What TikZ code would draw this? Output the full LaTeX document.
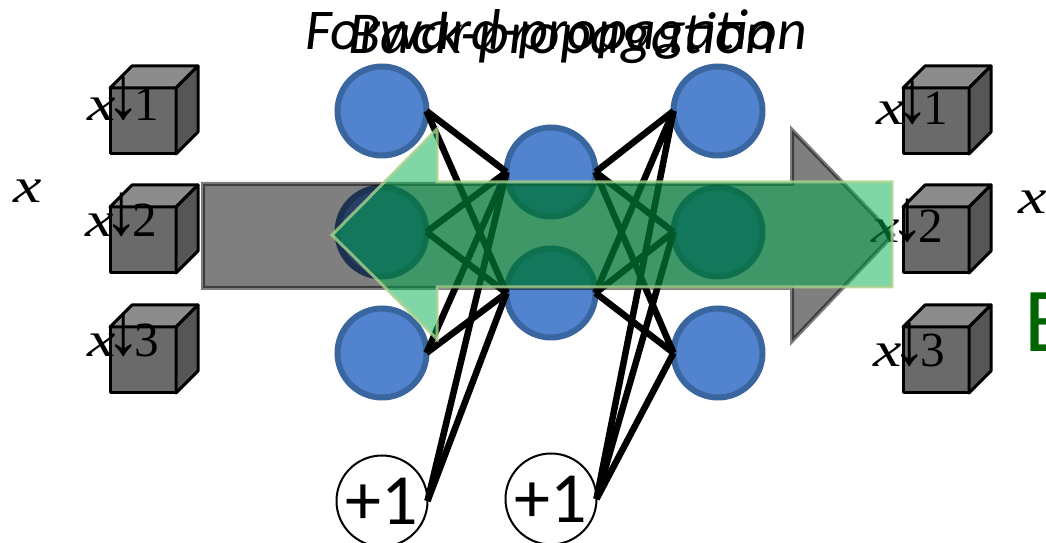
\documentclass[tikz,border=0pt]{standalone}
\usepackage{fontspec}
\newfontfamily\labelfont{Carlito}
\newfontfamily\subfont{Liberation Serif}
\usepackage{tikz}
\tikzset{>=latex}
\definecolor{cubefront}{HTML}{6A6A6A}
\definecolor{cubetop}{HTML}{8C8C8C}
\definecolor{cubeside}{HTML}{565656}
\definecolor{unitfill}{HTML}{5283CF}
\definecolor{unitline}{HTML}{3A669F}
\definecolor{arrowgreen}{HTML}{00B050}
\definecolor{arrowline}{HTML}{A9D18E}
\definecolor{letterE}{HTML}{006400}
\tikzset{
    unit/.style={circle, minimum size=89*.02cm, inner sep=0pt, outer sep=0pt, fill=unitfill, draw=unitline, line width=6*.02cm},
    bias/.style={circle, minimum size=91*.02cm, inner sep=0pt, outer sep=0pt, fill=white, draw=black, line width=2*.02cm, font=\labelfont\fontsize{41}{41}\selectfont},
    link/.style={line width=6.5*.02cm},
    cubeline/.style={draw=black, line width=3*.02cm, line join=round},
    sub/.style={inner sep=0pt, anchor=base west, font=\subfont\fontsize{28}{28}\selectfont},
    title/.style={inner sep=0pt, anchor=base west, font=\labelfont\itshape\fontsize{#1}{#1}\selectfont}
}
\newcommand{\xCube}[2]{
    \fill[cubeline, fill=cubefront](#1, #2)rectangle(#1+66, #2+66);
    \fill[cubeline, fill=cubetop](#1, #2)--(#1+22, #2-22)--(#1+88, #2-22)--(#1+66, #2)--cycle;
    \fill[cubeline, fill=cubeside](#1+66, #2)--(#1+88, #2-22)--(#1+88, #2+44)--(#1+66, #2+66)--cycle;
}
\newcommand{\xVar}{\scalebox{1.3}[1]{\itshape x}}
\newcommand{\xSub}[1]{\xVar\kern-5pt\raisebox{.05em}{\scalebox{1.4}[1.5]{↓}}\kern-4pt#1}

\begin{document}
\begin{tikzpicture}[x=.02cm, y=-.02cm]
    \useasboundingbox (0, 0) rectangle (1046, 543);
    % cubes
    \foreach \y in {88, 207, 327}{
        \xCube{110}{\y}
        \xCube{903}{\y}
    }
    \node[sub] (inA) at (87, 121) {\xSub1};
    \node[sub] (inB) at (85, 237) {\xSub2};
    \node[sub] (inC) at (87, 357) {\xSub3};
    \node[sub] (outA) at (876, 125) {\xSub1};
    \node[sub] (outB) at (871, 243) {\xSub2};
    \node[sub] (outC) at (873, 367) {\xSub3};
    \node[sub] (inX) at (13, 203) {\xVar};
    \node[sub] (outX) at (1018, 214) {\xVar};
    \node[inner sep=0pt, anchor=base west, text=letterE, font=\labelfont\fontsize{52}{52}\selectfont] (cutE) at (1024, 352) {E};
    % units
    \foreach \name/\x/\y in {lA/382/111, lB/382/232, lC/382/353, mA/551/172, mB/551/293, rA/718/111, rB/718/232, rC/718/353}
        \node[unit] (\name) at (\x, \y) {};
    \node[bias] (bA) at (382, 501) {+1};
    \node[bias] (bB) at (551, 499) {+1};
    % links
    \foreach \a in {lA, lB, lC, bA}
        \foreach \b in {mA, mB}
            \draw[link](\a.east)--(\b.west);
    \foreach \a in {mA, mB, bB}
        \foreach \b in {rA, rB, rC}
            \draw[link](\a.east)--(\b.west);
    % arrows
    \draw[fill=black, fill opacity=.5, draw=black, draw opacity=.5, line width=4*.02cm]
        (203, 184)--(792, 184)--(792, 130)--(893, 235)--(792, 341)--(792, 288)--(203, 288)--cycle;
    \draw[fill=arrowgreen, fill opacity=.5, draw=arrowline, draw opacity=.8, line width=3*.02cm]
        (892, 182)--(437, 182)--(437, 129)--(332, 235)--(437, 339)--(437, 287)--(892, 287)--cycle;
    % titles
    \node[title=32.8] (forward) at (305, 50) {Forward-propagation};
    \node[title=33.8] (back) at (348, 54) {Back-propagation};
\end{tikzpicture}
\end{document}
